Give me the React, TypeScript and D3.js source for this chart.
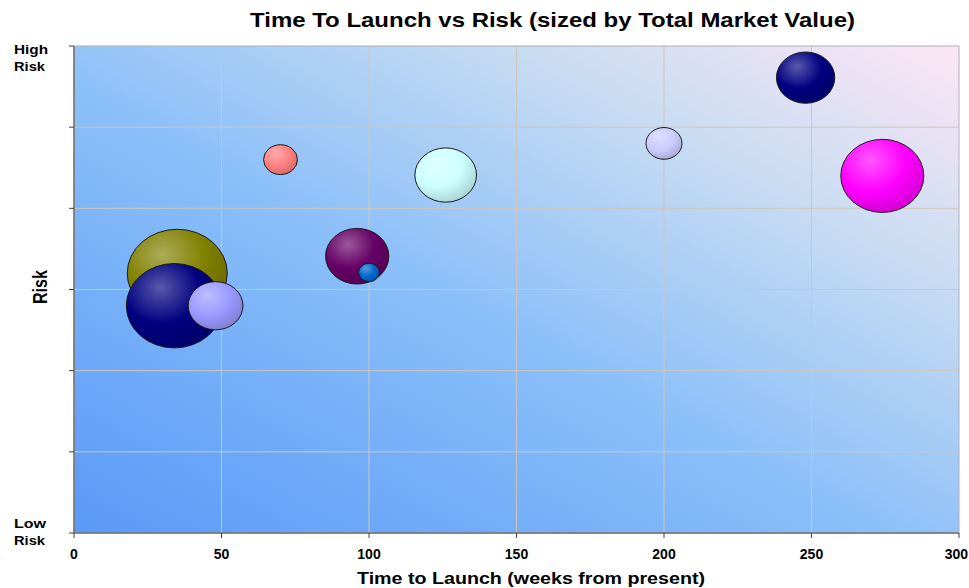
import React from "react";
import * as d3 from "d3";

const names = ["Olive", "Navy A", "Lavender", "Salmon", "Plum", "Blue", "Aqua", "Periwinkle", "Navy B", "Magenta"];
const weeks = [35, 34, 48, 70, 96, 100, 126, 200, 248, 274];
const risk = [3.2, 2.8, 2.8, 4.6, 3.41, 3.21, 4.41, 4.8, 5.61, 4.4];
const marketValue = [100, 92, 30, 11.5, 40, 4.4, 38, 13, 34, 69];
const colors = ["#808000", "#000080", "#9999ff", "#ff8080", "#660066", "#0066cc", "#ccffff", "#ccccff", "#000080", "#ff00ff"];

const xTicks = [0, 50, 100, 150, 200, 250, 300];
const yTicks = [0, 1, 2, 3, 4, 5, 6];
const yTickLabels: Record<number, string[]> = { 0: ["Low", "Risk"], 6: ["High", "Risk"] };

const W = 969, H = 588;
const left = 74, right = 959, top = 46, bottom = 533;

export default function App() {
  const x = d3.scaleLinear().domain([0, 300]).range([left, right]);
  const y = d3.scaleLinear().domain([0, 6]).range([bottom, top]);
  const r = d3.scaleSqrt().domain([0, 100]).range([0, 50]);
  const font = "'Liberation Sans', Arial, sans-serif";

  return (
    <svg width={W} height={H} style={{ position: "absolute", left: 0, top: 0, background: "#fff" }} fontFamily={font}>
      <defs>
        <linearGradient id="bg" x1="0" y1="1" x2="1" y2="0">
          <stop offset="0" stopColor="#5a99f8" />
          <stop offset="0.45" stopColor="#8abff9" />
          <stop offset="0.75" stopColor="#c8dcf2" />
          <stop offset="1" stopColor="#fde6f5" />
        </linearGradient>
        {colors.map((c, i) => {
          const base = d3.color(c)!;
          const hi = d3.interpolateRgb(c, "#ffffff")(0.35);
          const dark = base.darker(0.6).formatHex();
          return (
            <radialGradient key={i} id={`bub${i}`} cx="0.38" cy="0.32" r="0.75" fx="0.35" fy="0.28">
              <stop offset="0" stopColor={hi} />
              <stop offset="0.55" stopColor={c} />
              <stop offset="1" stopColor={dark} />
            </radialGradient>
          );
        })}
      </defs>
      <rect x={left} y={top} width={right - left} height={bottom - top} fill="url(#bg)" />
      {xTicks.slice(1, -1).map((t) => (
        <line key={"gx" + t} x1={x(t)} x2={x(t)} y1={top} y2={bottom} stroke="#cdc6bf" strokeWidth={1} />
      ))}
      {yTicks.slice(1, -1).map((t) => (
        <line key={"gy" + t} x1={left} x2={right} y1={y(t)} y2={y(t)} stroke="#cdc6bf" strokeWidth={1} />
      ))}
      <rect x={left} y={top} width={right - left} height={bottom - top} fill="none" stroke="#b0b0b8" strokeWidth={1} />
      <line x1={left} x2={left} y1={top} y2={bottom} stroke="#707070" strokeWidth={1.5} />
      <line x1={left} x2={right} y1={bottom} y2={bottom} stroke="#707070" strokeWidth={1.5} />
      {xTicks.map((t) => {
        const last = t === xTicks[xTicks.length - 1];
        return (
          <g key={"xt" + t}>
            <line x1={x(t)} x2={x(t)} y1={bottom} y2={bottom + 5} stroke="#404040" />
            <text x={last ? W - 1 : x(t)} y={559} textAnchor={last ? "end" : "middle"} fontSize={14} fontWeight="bold">{t}</text>
          </g>
        );
      })}
      {yTicks.map((t) => (
        <line key={"yt" + t} x1={left - 5} x2={left} y1={y(t)} y2={y(t)} stroke="#404040" />
      ))}
      {Object.entries(yTickLabels).map(([k, lines]) => {
        const yy = y(+k);
        const first = +k === 6 ? yy + 8 : yy - 5;
        return (
          <g key={"yl" + k}>
            <text x={14} y={first} fontSize={13} fontWeight="bold" textLength={lines[0] === "High" ? 34 : 32} lengthAdjust="spacingAndGlyphs">{lines[0]}</text>
            <text x={14} y={first + 17} fontSize={13} fontWeight="bold" textLength={31} lengthAdjust="spacingAndGlyphs">{lines[1]}</text>
          </g>
        );
      })}
      {weeks.map((w, i) => {
        const rx = r(marketValue[i]);
        const ry = rx * 0.88;
        return (
          <ellipse key={names[i]} cx={x(w)} cy={y(risk[i])} rx={rx} ry={ry} fill={`url(#bub${i})`} stroke="#1a1a1a" strokeWidth={1} />
        );
      })}
      <text x={250} y={27} fontSize={21} fontWeight="bold" textLength={605} lengthAdjust="spacingAndGlyphs">Time To Launch vs Risk (sized by Total Market Value)</text>
      <text x={357} y={584} fontSize={17} fontWeight="bold" textLength={348} lengthAdjust="spacingAndGlyphs">Time to Launch (weeks from present)</text>
      <text transform={`translate(47,287) rotate(-90) scale(0.95,1.2)`} textAnchor="middle" fontSize={17} fontWeight="bold">Risk</text>
    </svg>
  );
}
